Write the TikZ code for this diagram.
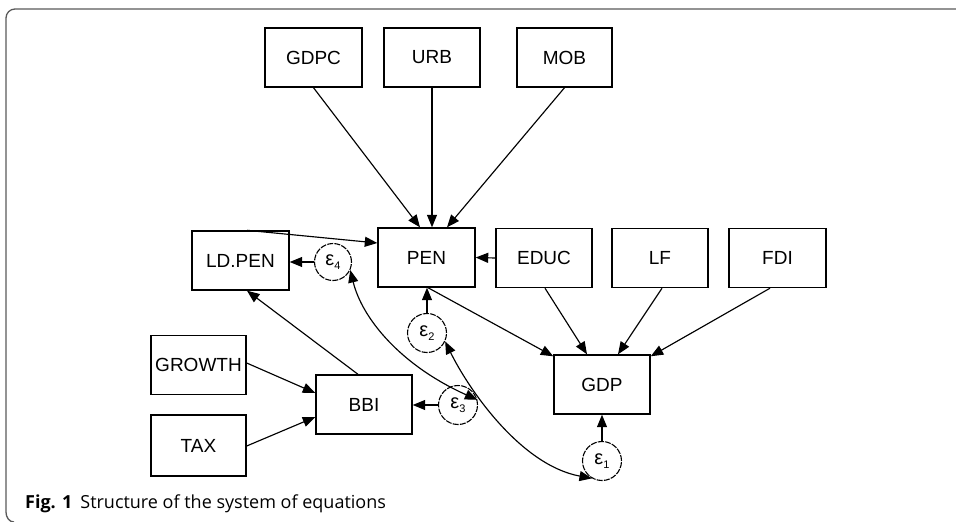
\documentclass[tikz,border=0pt]{standalone}
\usepackage{fontspec}
\setmainfont{Liberation Sans}
\newfontfamily\capfont{Open Sans}
\usetikzlibrary{arrows.meta}
\newcommand\errlab[1]{{\fontsize{20}{20}\selectfont ε}\raisebox{-3.5pt}{\fontsize{11}{11}\selectfont #1}}
\begin{document}
\begin{tikzpicture}[x=1pt,y=-1pt,
  box/.style={draw, line width=1.4pt, inner sep=0pt, font=\fontsize{19}{19}\selectfont, minimum height=59pt, minimum width=96pt},
  err/.style={draw, circle, line width=1.1pt, dash pattern=on 6pt off 1.2pt, minimum size=39pt, inner sep=0pt},
  con/.style={line width=1.15pt, -{Triangle[length=12.5pt,width=10pt]}},
  bicon/.style={line width=1.15pt, {Triangle[length=12.5pt,width=10pt]}-{Triangle[length=12.5pt,width=10pt]}},
  frame/.style={draw=black!65, line width=1.3pt}
]
\useasboundingbox (0,0) rectangle (956,522);
\draw[frame] (957,9) -- (15,9) to[out=180,in=90] (6,18) -- (6,512) to[out=-90,in=180] (14,522);

% top row
\node[box, minimum width=97pt] (gdpc) at (313.5,57.5) {GDPC};
\node[box] (urb) at (432,57.5) {URB};
\node[box, minimum width=95pt] (mob) at (564.5,57.5) {MOB};
% middle row
\node[box, minimum width=97pt] (pen) at (426.5,257.5) {PEN};
\node[box] (educ) at (544,258) {EDUC};
\node[box] (lf) at (660,258) {LF};
\node[box, minimum width=97pt] (fdi) at (777.5,258) {FDI};
\node[box, minimum width=97pt] (ldpen) at (240.5,260.5) {LD.PEN};
% lower
\node[box, minimum width=95pt] (growth) at (198.5,365) {GROWTH};
\node[box, minimum width=95pt, minimum height=61pt] (tax) at (198.5,445.5) {TAX};
\node[box] (bbi) at (364,404.5) {BBI};
\node[box] (gdp) at (602,384.5) {GDP};
% error terms
\node[err, minimum size=37pt] (e4) at (333,262) {\errlab{4}};
\node[err] (e2) at (427,333) {\errlab{2}};
\node[err] (e3) at (458,405) {\errlab{3}};
\node[err] (e1) at (602,461) {\errlab{1}};

% arrows into PEN
\draw[con] (gdpc.south) -- ([xshift=-6.5pt]pen.north);
\draw[con] (urb.south) -- (urb.south |- pen.north);
\draw[con] (mob.south) -- ([xshift=20.5pt]pen.north);
\draw[con] (educ.west) -- (pen.east);
\draw[con] ([xshift=6.5pt]ldpen.north) -- ([yshift=14.5pt]pen.west);
\draw[con] (e2.north) -- (e2.north |- pen.south);
% LD.PEN
\draw[con] (e4.west) -- (e4.west -| ldpen.east);
\draw[con] ([xshift=-6pt]bbi.north) -- ([xshift=6.5pt]ldpen.south);
% BBI
\draw[con] ([yshift=2pt]growth.east) -- ([yshift=11.5pt]bbi.west);
\draw[con] ([yshift=-0.5pt]tax.east) -- ([yshift=-12.5pt]bbi.west);
\draw[con] (e3.west) -- (e3.west -| bbi.east);
% GDP
\draw[con] ([xshift=1.5pt]pen.south) -- ([yshift=-2pt]gdp.north west);
\draw[con] ([xshift=1pt]educ.south) -- ([xshift=-15pt]gdp.north);
\draw[con] ([xshift=2pt]lf.south) -- ([xshift=16pt]gdp.north);
\draw[con] ([xshift=-7.5pt]fdi.south) -- ([yshift=-2pt]gdp.north east);
\draw[con] (e1.north) -- (e1.north |- gdp.south);
% covariances
\draw[bicon] (e4.-25) .. controls (362,318) and (400,365) .. (e3.15);
\draw[bicon] (e2.-25) .. controls (468,388) and (520,465) .. (e1.-120);

% caption
\node[anchor=base west, inner sep=0pt, font=\capfont\fontsize{18}{18}\selectfont] (cap) at (25,508) {\textbf{Fig. 1}\hspace{8pt}Structure of the system of equations};
\end{tikzpicture}
\end{document}
